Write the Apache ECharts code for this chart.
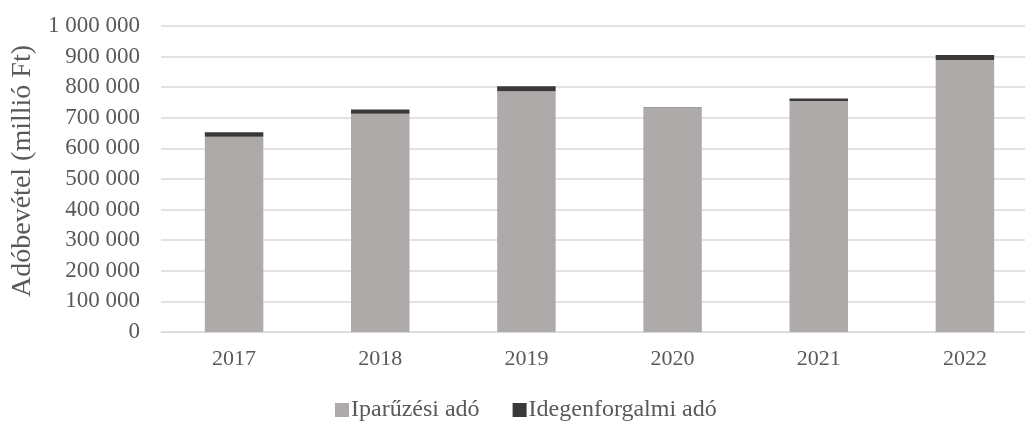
<!DOCTYPE html>
<html>
<head>
<meta charset="utf-8">
<script src="https://cdn.jsdelivr.net/npm/echarts@6/dist/echarts.min.js"></script>
<style>
html, body { margin: 0; padding: 0; background: #fff; }
#chart { width: 1025px; height: 421px; }
</style>
</head>
<body>
<div id="chart"></div>
<script>
// évek és adóbevételek (millió Ft)
var years = ['2017', '2018', '2019', '2020', '2021', '2022'];
var iparuzesi = [638000, 713000, 787000, 732000, 755000, 889000];
var idegenforgalmi = [15000, 14000, 16000, 2000, 8000, 16000];
var yTicks = [0, 100000, 200000, 300000, 400000, 500000, 600000, 700000, 800000, 900000, 1000000];

var font = '"Liberation Serif", "Times New Roman", serif';
var myChart = echarts.init(document.getElementById('chart'));

function fmt(v) {
	return String(v).replace(/\B(?=(\d{3})+(?!\d))/g, ' ');
}

myChart.setOption({
	animation: false,
	textStyle: { fontFamily: font },
	grid: {
		left: 161,
		top: 26,
		width: 877,
		bottom: 89,
		outerBoundsMode: 'none',
		containLabel: false
	},
	legend: {
		data: ['Iparűzési adó', 'Idegenforgalmi adó'],
		left: 330,
		top: 393,
		icon: 'rect',
		itemWidth: 14,
		itemHeight: 14,
		itemGap: 33,
		textStyle: { fontFamily: font, fontSize: 24, color: '#595959', padding: [0, 0, 0, -3] }
	},
	xAxis: {
		type: 'category',
		data: years,
		axisLine: { lineStyle: { color: '#d9d9d9', width: 1 } },
		axisTick: { show: false },
		axisLabel: { fontFamily: font, fontSize: 22, color: '#595959', margin: 16 }
	},
	yAxis: {
		type: 'value',
		min: yTicks[0],
		max: yTicks[yTicks.length - 1],
		interval: 100000,
		name: 'Adóbevétel (millió Ft)',
		nameLocation: 'middle',
		nameGap: 124,
		nameTextStyle: { fontFamily: font, fontSize: 28, color: '#595959', padding: [0, 0, 0, 16] },
		axisLine: { show: false },
		axisTick: { show: false },
		splitLine: { lineStyle: { color: '#d9d9d9', width: 1.5 } },
		axisLabel: {
			fontFamily: font,
			fontSize: 23,
			color: '#595959',
			margin: 21,
			formatter: function(v) { return fmt(v); }
		}
	},
	series: [{
		name: 'Iparűzési adó',
		type: 'bar',
		stack: 'ado',
		barWidth: '40%',
		data: iparuzesi,
		itemStyle: { color: '#aeaaaa' }
	}, {
		name: 'Idegenforgalmi adó',
		type: 'bar',
		stack: 'ado',
		barWidth: '40%',
		data: idegenforgalmi,
		itemStyle: { color: '#3b3838' }
	}]
});
</script>
</body>
</html>
